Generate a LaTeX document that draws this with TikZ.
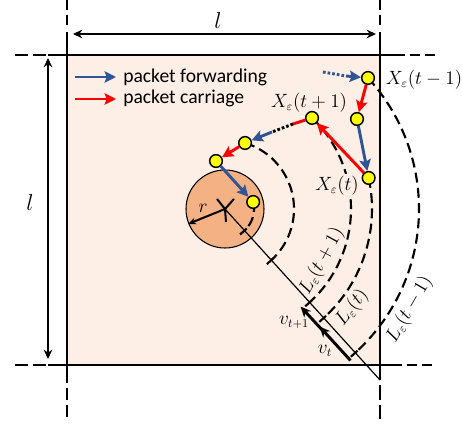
\documentclass[tikz,border=0pt]{standalone}
\usepackage{fontspec}
\newfontfamily\legendfont{Carlito}
\usetikzlibrary{arrows.meta,calc}
\definecolor{bgfill}{RGB}{253,238,230}
\definecolor{obst}{RGB}{244,177,131}
\definecolor{fwdblue}{RGB}{47,85,151}
\definecolor{carred}{RGB}{255,0,0}
\definecolor{nodeyellow}{RGB}{255,255,0}
\begin{document}
\begin{tikzpicture}[x=0.75pt,y=-0.75pt,
  bord/.style={line width=1.4pt},
  extd/.style={line width=1.6pt,dash pattern=on 7.5pt off 3.75pt},
  dimarrow/.style={line width=1.2pt,{Stealth[length=7pt,width=6.5pt]}-{Stealth[length=7pt,width=6.5pt]}},
  fwd/.style={draw=fwdblue,line width=2.2pt,-{Stealth[length=8.5pt,width=8.5pt,inset=1.5pt]}},
  car/.style={draw=carred,line width=2.2pt,-{Stealth[length=8.5pt,width=8.5pt,inset=1.5pt]}},
  ptnode/.style={circle,draw,line width=1.1pt,fill=nodeyellow,minimum size=9.5pt,inner sep=0pt},
  arcd/.style={line width=1.6pt,dash pattern=on 7.5pt off 4pt},
  tickm/.style={line width=1.6pt},
  lbl/.style={font=\fontsize{13.5}{15}\selectfont,inner sep=0pt},
  leg/.style={font=\legendfont\fontsize{14.7}{17}\selectfont,anchor=base west,inner sep=0pt},
  vel/.style={line width=2.2pt,-{Stealth[length=8pt,width=7pt]}},
  dots/.style={line width=2.2pt,dash pattern=on 2pt off 1.5pt}
]
\useasboundingbox (0,0) rectangle (462,424);
% background square
\fill[bgfill] (67,55) rectangle (380,365);
% frame lines
\draw[extd,dash pattern=on 9.75pt off 3.75pt] (15,55) -- (46,55);
\draw[bord] (48,55) -- (405,55);
\draw[extd] (410,55) -- (436,55);
\draw[extd,dash pattern=on 9.75pt off 3.75pt] (15,365) -- (46,365);
\draw[bord] (48,365) -- (402,365);
\draw[extd] (407,365) -- (433,365);
\draw[extd] (67,0) -- (67,27);
\draw[bord] (67,32) -- (67,383);
\draw[extd,dash pattern=on 9pt off 3.75pt] (67,388) -- (67,421);
\draw[extd] (380,0) -- (380,27);
\draw[bord] (380,32) -- (380,380);
\draw[extd,dash pattern=on 11pt off 3.75pt] (380,385) -- (380,421);
% dimensions
\coordinate (dt1) at (73,34); \coordinate (dt2) at (376,34);
\draw[dimarrow] (dt1) -- (dt2);
\node[font=\fontsize{17}{19}\selectfont] (lt) at (218,21) {$l$};
\coordinate (dl1) at (48,58); \coordinate (dl2) at (48,359);
\draw[dimarrow] (dl1) -- (dl2);
\node[font=\fontsize{17}{19}\selectfont] (ll) at (30,203) {$l$};
% legend
\coordinate (lb1) at (75,77); \coordinate (lb2) at (116,77);
\draw[fwd] (lb1) -- (lb2);
\coordinate (lr1) at (75,99); \coordinate (lr2) at (116,99);
\draw[car] (lr1) -- (lr2);
\node[leg] (tf) at (123,83) {packet forwarding};
\node[leg] (tc) at (123,104) {packet carriage};
% obstacle
\coordinate (O) at (225,209);
\coordinate (P) at (380,380);
\draw[fill=obst,line width=0.8pt] (O) circle[radius=39];
% arcs
\draw[arcd] ($(O)+(-42.5:194)$) arc[start angle=-42.5,end angle=47.8,radius=194];
\draw[arcd] ($(O)+(-12.2:147)$) arc[start angle=-12.2,end angle=47.8,radius=147];
\draw[arcd] ($(O)+(-46.3:126)$) arc[start angle=-46.3,end angle=47.8,radius=126];
\draw[arcd] ($(O)+(-73.1:69)$) arc[start angle=-73.1,end angle=47.8,radius=69];
\draw[arcd] ($(O)+(-14:29)$) arc[start angle=-14,end angle=47.8,radius=29];
\foreach \r in {194,147,126,69,29}{
  \draw[tickm] ($(O)+(47.8:\r)+(137.8:6)$) -- ($(O)+(47.8:\r)+(-42.2:3)$);
}
% radial line
\draw[line width=0.9pt] (O) -- (P);
% X mark and radius
\coordinate (xa) at (217,199); \coordinate (xb) at (234,199); \coordinate (xc) at (226,222);
\draw[line width=1.5pt] (xa) -- (O) -- (xb);
\draw[line width=1.5pt] (O) -- (xc);
\coordinate (rr) at (188,224);
\draw[line width=1.5pt,-{Stealth[length=6pt,width=5pt]}] (O) -- (rr);
\node[lbl] (rl) at (203,208) {$r$};
% X(t) label covers the arc behind it
\node[lbl,fill=bgfill,inner sep=1.5pt] (xl3) at (337,186) {$X_\varepsilon(t)$};
% nodes
\node[ptnode] (N1) at ($(O)+(-42.5:194)$) {};
\node[ptnode] (N2) at (357,119) {};
\node[ptnode] (N3) at ($(O)+(-12.2:147)$) {};
\node[ptnode] (N4) at ($(O)+(-46.3:126)$) {};
\node[ptnode] (N5) at ($(O)+(-73.1:69)$) {};
\node[ptnode] (N6) at (216,161) {};
\node[ptnode] (N7) at ($(O)+(-14:29)$) {};
% connectors
\coordinate (d1) at (323,72); \coordinate (d2) at (346,76);
\draw[fwdblue,dots] (d1) -- (d2);
\draw[fwd] (d2) -- (N1);
\draw[car] (N1) -- (N2);
\draw[fwd] (N2) -- (N3);
\draw[car] (N3) -- (N4);
\coordinate (c3) at (293,124); \coordinate (c4) at (272,132);
\draw[carred,line width=2.2pt] (N4) -- (c3);
\draw[black,dots] (c3) -- (c4);
\draw[fwd] (c4) -- (N5);
\draw[car] (N5) -- (N6);
\draw[fwd] (N6) -- (N7);
% velocities
\coordinate (v1s) at (324.5,332.5); \coordinate (v1e) at (300.5,306.5);
\coordinate (v2s) at (350.5,360.5); \coordinate (v2e) at (319.5,326.5);
\draw[vel] (v1s) -- (v1e);
\draw[vel] (v2s) -- (v2e);
% labels
\node[lbl] (xl1) at (424,80) {$X_\varepsilon(t-1)$};
\node[lbl] (xl2) at (309,103) {$X_\varepsilon(t+1)$};
\node[lbl] (vl1) at (294,322) {$v_{t+1}$};
\node[lbl] (vl2) at (325,351) {$v_t$};
\node[lbl,rotate=61.6] (ll1) at ($(O)+(28.4:110)$) {$L_\varepsilon(t+1)$};
\node[lbl,rotate=52] (ll2) at ($(O)+(37.9:161)$) {$L_\varepsilon(t)$};
\node[lbl,rotate=60] (ll3) at ($(O)+(28.5:210)$) {$L_\varepsilon(t-1)$};
\end{tikzpicture}
\end{document}
